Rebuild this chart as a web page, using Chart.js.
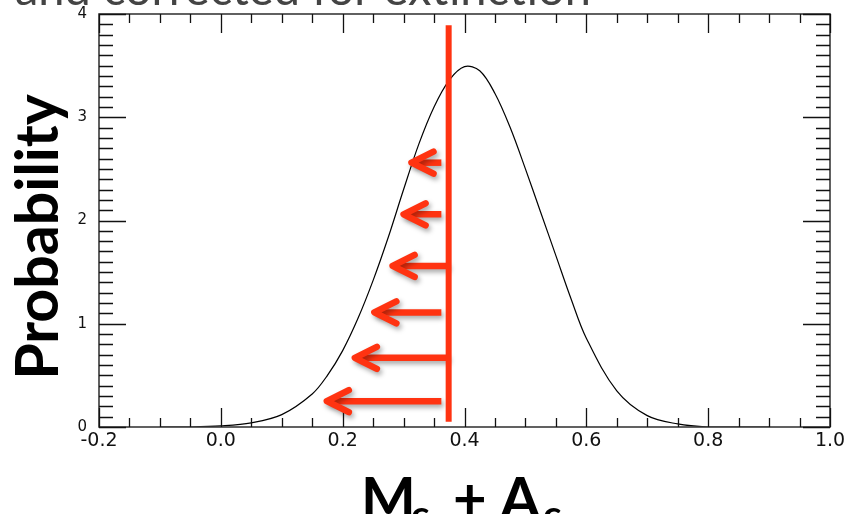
<!DOCTYPE html>
<html>
<head>
<meta charset="utf-8">
<script src="https://cdn.jsdelivr.net/npm/chart.js@4.4.1/dist/chart.umd.min.js"></script>
<style>
html, body { margin: 0; padding: 0; background: #fff; }
#wrap { width: 846px; height: 514px; }
</style>
</head>
<body>
<div id="wrap"><canvas id="canvas1"></canvas></div>
<script>
// probability curve
const xs = [-0.10, -0.05, 0.00, 0.05, 0.10, 0.15, 0.175, 0.20, 0.225, 0.25, 0.275, 0.30, 0.325,
            0.35, 0.375, 0.40, 0.425, 0.45, 0.475, 0.50, 0.525, 0.55, 0.575, 0.60, 0.65,
            0.70, 0.75, 0.80, 0.85, 0.90];
const probs = [0.00, 0.00, 0.01, 0.04, 0.12, 0.32, 0.50, 0.74, 1.05, 1.42, 1.84, 2.30, 2.74,
               3.10, 3.36, 3.49, 3.45, 3.23, 2.90, 2.50, 2.08, 1.66, 1.24, 0.86, 0.35,
               0.11, 0.03, 0.00, 0.00, 0.00];

// red marker line and the arrows pointing left from it
const markerX = 0.374;
const markerTop = 3.89;
const markerBottom = 0.05;
const arrowY = [2.56, 2.06, 1.56, 1.11, 0.67, 0.25];
const arrowTip = [0.313, 0.300, 0.282, 0.252, 0.220, 0.174];
const arrowTail = [0.362, 0.362, 0.374, 0.362, 0.374, 0.362];

const topText = 'and corrected for extinction';
const yTitle = 'Probability';

const decor = {
    id: 'decor',
    afterDatasetsDraw(chart) {
        const { ctx, chartArea: a, scales: { x, y } } = chart;
        ctx.save();

        // box
        ctx.strokeStyle = '#3a3a3a';
        ctx.lineWidth = 1.6;
        ctx.strokeRect(a.left, a.top, a.right - a.left, a.bottom - a.top);

        // inward tick marks on all four sides
        ctx.strokeStyle = '#111';
        ctx.lineWidth = 1.3;
        ctx.beginPath();
        for (let i = 0; i <= 24; i++) {
            const px = Math.round(x.getPixelForValue(-0.2 + i * 0.05)) + 0.5;
            const len = i % 4 === 0 ? 19 : 9;
            ctx.moveTo(px, a.bottom); ctx.lineTo(px, a.bottom - len);
            ctx.moveTo(px, a.top); ctx.lineTo(px, a.top + len);
        }
        for (let i = 0; i <= 40; i++) {
            const py = Math.round(y.getPixelForValue(i * 0.1)) + 0.5;
            const len = i % 10 === 0 ? 27 : 14;
            ctx.moveTo(a.left, py); ctx.lineTo(a.left + len, py);
            ctx.moveTo(a.right, py); ctx.lineTo(a.right - len, py);
        }
        ctx.stroke();

        // arrows
        ctx.strokeStyle = '#ff3311';
        ctx.lineWidth = 6.5;
        ctx.lineJoin = 'round';
        ctx.shadowColor = 'rgba(0,0,0,0.35)';
        ctx.shadowBlur = 5;
        ctx.shadowOffsetX = 2;
        ctx.shadowOffsetY = 3;
        arrowY.forEach((v, i) => {
            const yy = y.getPixelForValue(v);
            const tip = x.getPixelForValue(arrowTip[i]);
            const tail = x.getPixelForValue(arrowTail[i]);
            ctx.lineCap = 'butt';
            ctx.beginPath();
            ctx.moveTo(tail, yy);
            ctx.lineTo(tip + 2, yy);
            ctx.stroke();
            ctx.lineCap = 'round';
            ctx.beginPath();
            ctx.moveTo(tip + 22, yy - 11);
            ctx.lineTo(tip, yy);
            ctx.lineTo(tip + 22, yy + 11);
            ctx.stroke();
        });

        // vertical marker
        ctx.shadowColor = 'rgba(0,0,0,0)';
        ctx.lineCap = 'butt';
        ctx.lineWidth = 6;
        ctx.beginPath();
        const mx = x.getPixelForValue(markerX);
        ctx.moveTo(mx, y.getPixelForValue(markerTop));
        ctx.lineTo(mx, y.getPixelForValue(markerBottom));
        ctx.stroke();
        ctx.restore();
    },
    afterDraw(chart) {
        const ctx = chart.ctx;
        ctx.save();
        ctx.fillStyle = '#444';
        ctx.font = '40px Lato';
        const tw = ctx.measureText(topText).width;
        ctx.font = Math.round(40 * 570 / tw) + 'px Lato';
        ctx.textAlign = 'left';
        ctx.textBaseline = 'alphabetic';
        ctx.fillText(topText, 15, 5);

        // y title, sized to span the axis
        ctx.fillStyle = '#000';
        ctx.font = 'bold 55px Lato';
        const w = ctx.measureText(yTitle).width;
        const size = Math.round(55 * 285 / w);
        ctx.translate(58, 237);
        ctx.rotate(-Math.PI / 2);
        ctx.font = 'bold ' + size + 'px Lato';
        ctx.textAlign = 'center';
        ctx.fillText(yTitle, 0, 0);
        ctx.restore();

        // x title: M_c + A_c
        ctx.save();
        ctx.fillStyle = '#000';
        ctx.textAlign = 'left';
        ctx.font = 'bold 58px Lato';
        ctx.fillText('M', 361, 519);
        ctx.fillText('+', 453, 519);
        ctx.fillText('A', 500, 519);
        ctx.font = 'bold 38px Lato';
        ctx.fillText('c', 411, 528);
        ctx.fillText('c', 543, 528);
        ctx.restore();
    }
};

new Chart(document.getElementById('canvas1'), {
    type: 'line',
    data: {
        datasets: [{
            data: xs.map((v, i) => ({ x: v, y: probs[i] })),
            borderColor: '#000',
            borderWidth: 1.2,
            pointRadius: 0,
            fill: false,
            tension: 0.35
        }]
    },
    options: {
        responsive: true,
        maintainAspectRatio: false,
        animation: false,
        layout: { padding: { left: 0, top: 14, right: 16, bottom: 0 } },
        plugins: { legend: { display: false }, tooltip: { enabled: false } },
        scales: {
            x: {
                type: 'linear',
                min: -0.2,
                max: 1.0,
                grid: { display: false, drawTicks: false },
                border: { display: false },
                ticks: {
                    stepSize: 0.2,
                    autoSkip: false,
                    maxRotation: 0,
                    padding: 3,
                    color: '#111',
                    font: { family: 'DejaVu Sans', size: 19 },
                    callback: v => (Math.abs(v) < 1e-9 ? 0 : v).toFixed(1)
                },
                afterFit(s) {
                    s.height = 87;
                    s.paddingLeft = 0;
                    s.paddingRight = 0;
                }
            },
            y: {
                min: 0,
                max: 4,
                grid: { display: false, drawTicks: false },
                border: { display: false },
                ticks: {
                    stepSize: 1,
                    padding: 12,
                    color: '#111',
                    font: { family: 'DejaVu Sans', size: 15 }
                },
                afterFit(s) {
                    s.width = 99;
                    s.paddingTop = 0;
                    s.paddingBottom = 0;
                }
            }
        }
    },
    plugins: [decor]
});
</script>
</body>
</html>
